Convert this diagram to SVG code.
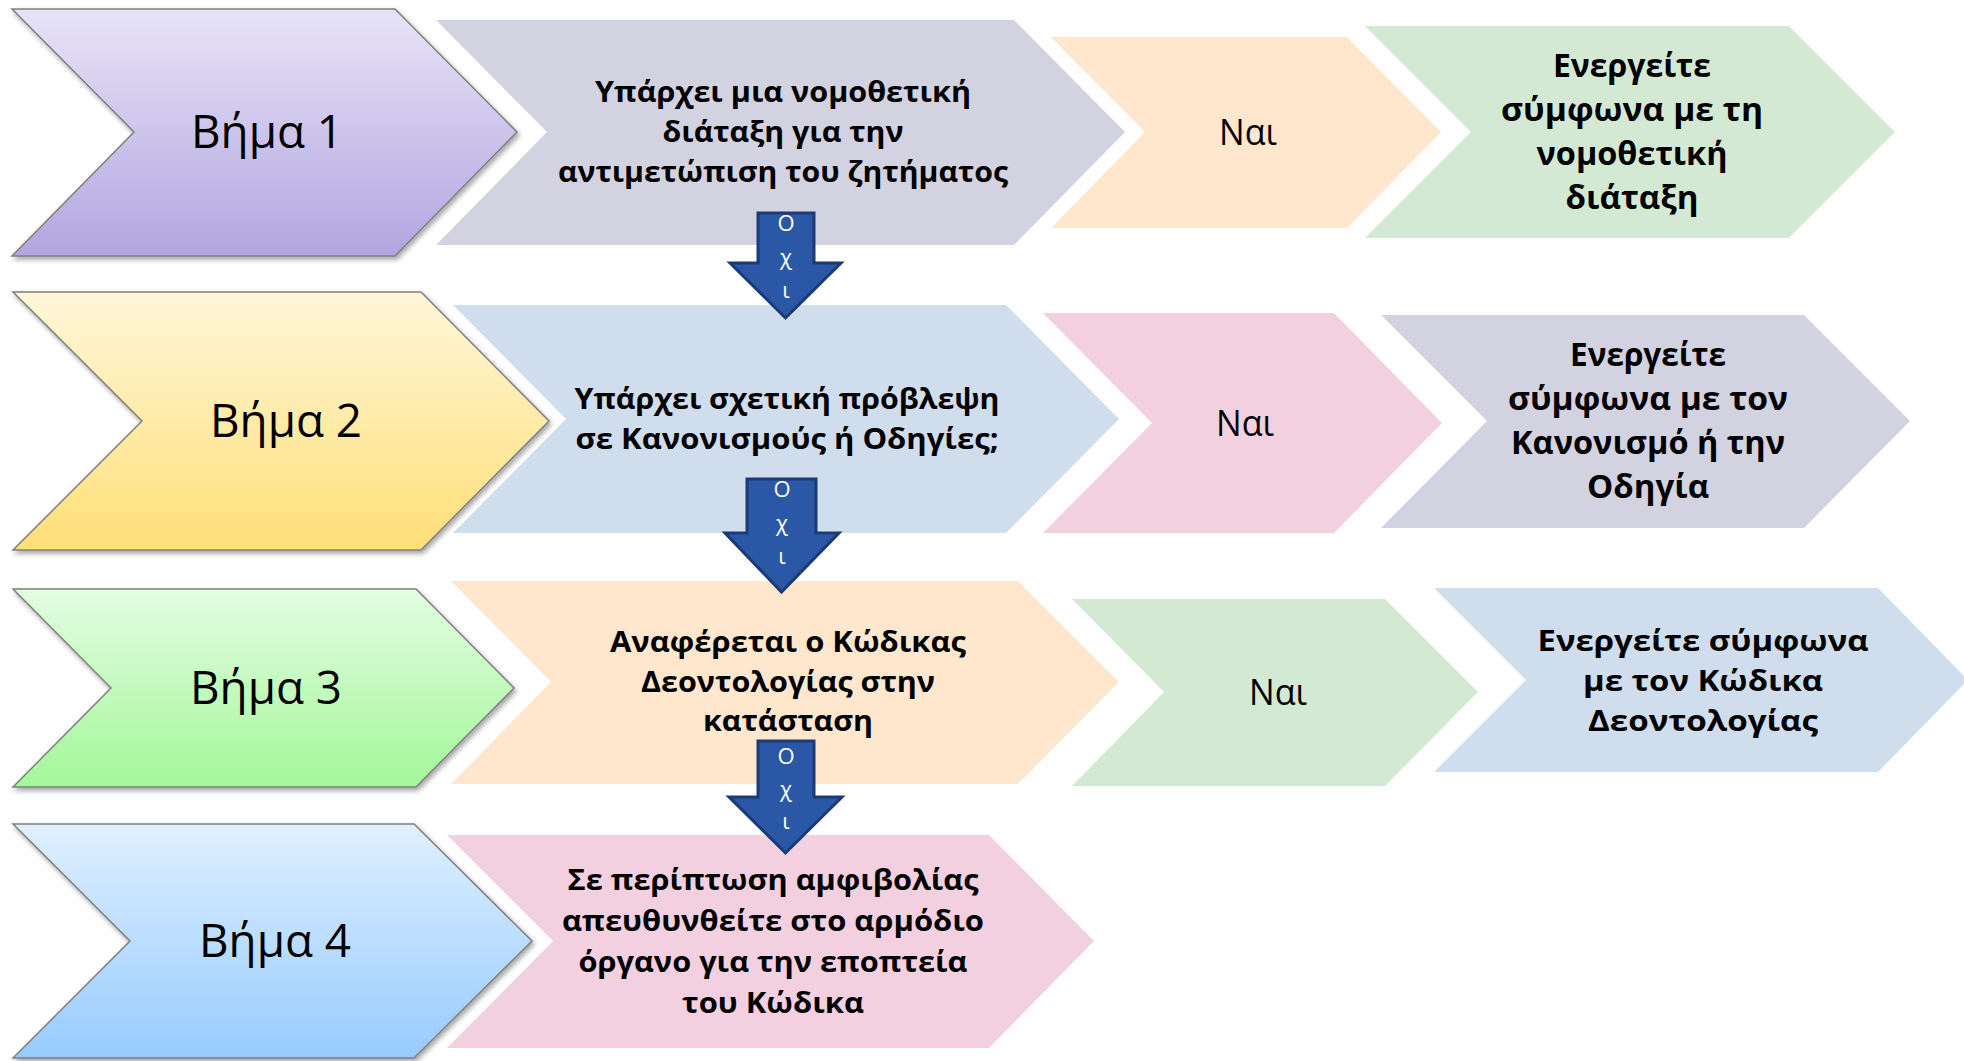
<svg xmlns="http://www.w3.org/2000/svg" width="1964" height="1061" viewBox="0 0 1964 1061">
<defs>
<style>
.step{stroke:#7f7f7f;stroke-width:1.5;filter:url(#sh)}
.lbl{font-family:"Open Sans","Noto Sans","DejaVu Sans",sans-serif;fill:#000;text-anchor:middle}
.st{font-size:45px;font-weight:400}
.nai{font-size:36px;font-weight:400}
.b{font-size:29px;font-weight:700}
.b2{font-size:32px;font-weight:700}
.arr{fill:#2b57a7;stroke:#1c3b75;stroke-width:3;stroke-linejoin:miter}
.ox{font-family:"Open Sans","Noto Sans","DejaVu Sans",sans-serif;font-size:22px;fill:#fff;text-anchor:middle}
.grey{fill:#d3d2e0}.orange{fill:#ffe7ce}.green{fill:#d4e9d4}.blue{fill:#d0ddec}.pink{fill:#f2d0df}
</style>
<filter id="sh" x="-5%" y="-5%" width="112%" height="115%">
<feDropShadow dx="2" dy="3" stdDeviation="2.5" flood-color="#000" flood-opacity="0.35"/>
</filter>
<linearGradient id="g1" x1="0" y1="0" x2="0" y2="1"><stop offset="0" stop-color="#e8e4f7"/><stop offset="1" stop-color="#b2a5e0"/></linearGradient>
<linearGradient id="g2" x1="0" y1="0" x2="0" y2="1"><stop offset="0" stop-color="#fff7da"/><stop offset="1" stop-color="#ffdf77"/></linearGradient>
<linearGradient id="g3" x1="0" y1="0" x2="0" y2="1"><stop offset="0" stop-color="#e4fde2"/><stop offset="1" stop-color="#a3f799"/></linearGradient>
<linearGradient id="g4" x1="0" y1="0" x2="0" y2="1"><stop offset="0" stop-color="#dff0ff"/><stop offset="1" stop-color="#97cbff"/></linearGradient>
</defs>
<rect width="1964" height="1061" fill="#fff"/>

<!-- Row 1 -->
<g id="step1">
<polygon class="step" fill="url(#g1)" points="12,9 395,9 517,132 395,256 12,256 134,132"/>
<text class="lbl st" x="267" y="148" textLength="152" lengthAdjust="spacingAndGlyphs">Βήμα 1</text>
</g>
<g id="q1">
<polygon class="grey" points="436,20 1014,20 1125,132 1014,245 436,245 547,132"/>
<text class="lbl b" x="783" y="102" textLength="376" lengthAdjust="spacingAndGlyphs">Υπάρχει μια νομοθετική</text>
<text class="lbl b" x="783" y="142" textLength="241" lengthAdjust="spacingAndGlyphs">διάταξη για την</text>
<text class="lbl b" x="783" y="182" textLength="450" lengthAdjust="spacingAndGlyphs">αντιμετώπιση του ζητήματος</text>
</g>
<g id="yes1">
<polygon class="orange" points="1051,37 1347,37 1441,132 1347,228 1051,228 1145,132"/>
<text class="lbl nai" x="1248" y="145" textLength="58" lengthAdjust="spacingAndGlyphs">Ναι</text>
</g>
<g id="act1">
<polygon class="green" points="1365,26 1789,26 1895,132 1789,238 1365,238 1471,132"/>
<text class="lbl b2" x="1632" y="77" textLength="158" lengthAdjust="spacingAndGlyphs">Ενεργείτε</text>
<text class="lbl b2" x="1632" y="121" textLength="262" lengthAdjust="spacingAndGlyphs">σύμφωνα με τη</text>
<text class="lbl b2" x="1632" y="165" textLength="191" lengthAdjust="spacingAndGlyphs">νομοθετική</text>
<text class="lbl b2" x="1632" y="209" textLength="133" lengthAdjust="spacingAndGlyphs">διάταξη</text>
</g>

<!-- Row 2 -->
<g id="step2">
<polygon class="step" fill="url(#g2)" points="13,292 421,292 549,421 421,550 13,550 142,421"/>
<text class="lbl st" x="286" y="437" textLength="152" lengthAdjust="spacingAndGlyphs">Βήμα 2</text>
</g>
<g id="q2">
<polygon class="blue" points="453,305 1006,305 1119,419 1006,533 453,533 566,419"/>
<text class="lbl b" x="787" y="409" textLength="425" lengthAdjust="spacingAndGlyphs">Υπάρχει σχετική πρόβλεψη</text>
<text class="lbl b" x="787" y="449" textLength="423" lengthAdjust="spacingAndGlyphs">σε Κανονισμούς ή Οδηγίες;</text>
</g>
<g id="yes2">
<polygon class="pink" points="1043,313 1334,313 1442,423 1334,533 1043,533 1152,423"/>
<text class="lbl nai" x="1245" y="436" textLength="58" lengthAdjust="spacingAndGlyphs">Ναι</text>
</g>
<g id="act2">
<polygon class="grey" points="1381,315 1804,315 1910,421 1804,528 1381,528 1487,421"/>
<text class="lbl b2" x="1648" y="366" textLength="156" lengthAdjust="spacingAndGlyphs">Ενεργείτε</text>
<text class="lbl b2" x="1648" y="410" textLength="280" lengthAdjust="spacingAndGlyphs">σύμφωνα με τον</text>
<text class="lbl b2" x="1648" y="454" textLength="274" lengthAdjust="spacingAndGlyphs">Κανονισμό ή την</text>
<text class="lbl b2" x="1648" y="498" textLength="122" lengthAdjust="spacingAndGlyphs">Οδηγία</text>
</g>

<!-- Row 3 -->
<g id="step3">
<polygon class="step" fill="url(#g3)" points="13,589 416,589 514,688 416,787 13,787 111,688"/>
<text class="lbl st" x="266" y="704" textLength="152" lengthAdjust="spacingAndGlyphs">Βήμα 3</text>
</g>
<g id="q3">
<polygon class="orange" points="451,581 1018,581 1119,682 1018,784 451,784 551,682"/>
<text class="lbl b" x="788" y="652" textLength="356" lengthAdjust="spacingAndGlyphs">Αναφέρεται ο Κώδικας</text>
<text class="lbl b" x="788" y="692" textLength="294" lengthAdjust="spacingAndGlyphs">Δεοντολογίας στην</text>
<text class="lbl b" x="788" y="731" textLength="170" lengthAdjust="spacingAndGlyphs">κατάσταση</text>
</g>
<g id="yes3">
<polygon class="green" points="1072,599 1385,599 1478,692 1385,786 1072,786 1164,692"/>
<text class="lbl nai" x="1278" y="705" textLength="58" lengthAdjust="spacingAndGlyphs">Ναι</text>
</g>
<g id="act3">
<polygon class="blue" points="1434,588 1878,588 1968,680 1878,772 1434,772 1526,680"/>
<text class="lbl b" x="1703" y="651" textLength="331" lengthAdjust="spacingAndGlyphs">Ενεργείτε σύμφωνα</text>
<text class="lbl b" x="1703" y="691" textLength="240" lengthAdjust="spacingAndGlyphs">με τον Κώδικα</text>
<text class="lbl b" x="1703" y="731" textLength="230" lengthAdjust="spacingAndGlyphs">Δεοντολογίας</text>
</g>

<!-- Row 4 -->
<g id="step4">
<polygon class="step" fill="url(#g4)" points="13,824 414,824 532,941 414,1058 13,1058 130,941"/>
<text class="lbl st" x="275" y="957" textLength="152" lengthAdjust="spacingAndGlyphs">Βήμα 4</text>
</g>
<g id="q4">
<polygon class="pink" points="447,835 989,835 1094,941 989,1048 447,1048 553,941"/>
<text class="lbl b" x="773" y="890" textLength="411" lengthAdjust="spacingAndGlyphs">Σε περίπτωση αμφιβολίας</text>
<text class="lbl b" x="773" y="931" textLength="422" lengthAdjust="spacingAndGlyphs">απευθυνθείτε στο αρμόδιο</text>
<text class="lbl b" x="773" y="972" textLength="389" lengthAdjust="spacingAndGlyphs">όργανο για την εποπτεία</text>
<text class="lbl b" x="773" y="1013" textLength="182" lengthAdjust="spacingAndGlyphs">του Κώδικα</text>
</g>

<!-- Connectors: "Όχι" down arrows -->
<g id="connectors">
<g id="no1">
<polygon class="arr" points="758,213 814,213 814,263 841,263 785.5,318 730,263 758,263"/>
<text class="ox" x="786" y="231">Ο</text>
<text class="ox" x="786" y="265">χ</text>
<text class="ox" x="786" y="298">ι</text>
</g>
<g id="no2">
<polygon class="arr" points="747,479 816,479 816,533 839,533 781.5,592 725,533 747,533"/>
<text class="ox" x="782" y="497">Ο</text>
<text class="ox" x="782" y="531">χ</text>
<text class="ox" x="782" y="564">ι</text>
</g>
<g id="no3">
<polygon class="arr" points="758,741 814,741 814,797 842,797 785.5,853 729,797 758,797"/>
<text class="ox" x="786" y="764">Ο</text>
<text class="ox" x="786" y="797">χ</text>
<text class="ox" x="786" y="829">ι</text>
</g>
</g>
</svg>
